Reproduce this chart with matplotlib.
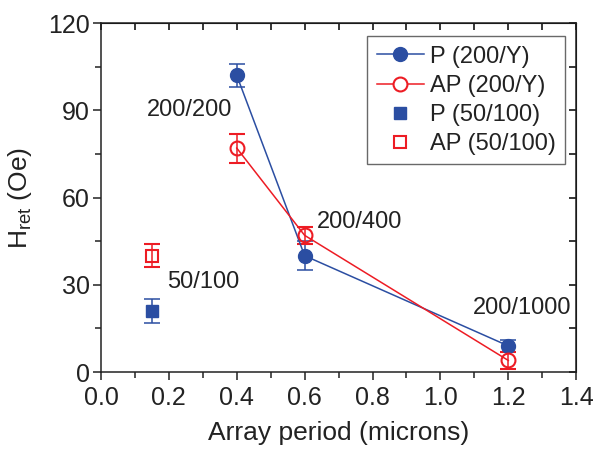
import matplotlib
matplotlib.use("Agg")
import matplotlib.pyplot as plt
from matplotlib.ticker import MultipleLocator
from matplotlib.lines import Line2D

plt.rcParams['font.family'] = ['Liberation Sans', 'DejaVu Sans']
plt.rcParams['mathtext.fontset'] = 'custom'
plt.rcParams['mathtext.rm'] = 'Liberation Sans'

blue = '#2b4ea2'
red = '#ed1c24'

# data
period_200 = [0.4, 0.6, 1.2]
p_200 = [102, 40, 9]
p_200_err = [4, 5, 2]
ap_200 = [77, 47, 4]
ap_200_err = [5, 3, 3]

period_50 = [0.15]
p_50 = [21]
p_50_err = [4]
ap_50 = [40]
ap_50_err = [4]

labels = ['200/200', '200/400', '200/1000', '50/100']
label_x = [0.136, 0.637, 1.097, 0.195]
label_y = [90, 51.6, 22, 31]

fig = plt.figure(figsize=(5.94, 4.51), dpi=100)
ax = fig.add_axes([0.170, 0.175, 0.800, 0.774])

eb = dict(capsize=5.5, elinewidth=1.1, capthick=1.1)
ax.errorbar(period_200, p_200, yerr=p_200_err, color=blue, marker='o', ms=10,
            lw=1.1, **eb)
ax.errorbar(period_200, ap_200, yerr=ap_200_err, color=red, marker='o', ms=10,
            mfc='none', mew=1.5, lw=1.1, **eb)
ax.errorbar(period_50, p_50, yerr=p_50_err, color=blue, marker='s', ms=9, ls='none', **eb)
ax.errorbar(period_50, ap_50, yerr=ap_50_err, color=red, marker='s', ms=9, ls='none',
            mfc='none', mew=1.5, **eb)

for t, x, y in zip(labels, label_x, label_y):
    ax.text(x, y, t, fontsize=17, va='center', ha='left', color='#222222')

ax.set_xlim(0, 1.4)
ax.set_ylim(0, 120)
ax.xaxis.set_major_locator(MultipleLocator(0.2))
ax.xaxis.set_minor_locator(MultipleLocator(0.1))
ax.yaxis.set_major_locator(MultipleLocator(30))
ax.yaxis.set_minor_locator(MultipleLocator(15))
ax.xaxis.set_major_formatter(plt.FormatStrFormatter('%.1f'))
ax.tick_params(which='both', direction='out', top=False, right=False,
               labelsize=18, width=1.1, colors='#222222')
ax.tick_params(which='major', length=6)
ax.tick_params(which='minor', length=4)
ax.tick_params(axis='x', pad=4)
ax.tick_params(axis='y', pad=2)

# inward ticks on top and right
sx = ax.secondary_xaxis('top')
sx.xaxis.set_major_locator(MultipleLocator(0.1))
sx.tick_params(direction='in', length=5, width=1.1, labeltop=False)
sy = ax.secondary_yaxis('right')
sy.yaxis.set_major_locator(MultipleLocator(15))
sy.tick_params(direction='in', length=5, width=1.1, labelright=False)

for s in ax.spines.values():
    s.set_linewidth(1.1)
    s.set_color('#222222')

ax.set_xlabel('Array period (microns)', fontsize=19, labelpad=8, color='#222222')
ax.set_ylabel('$\\mathregular{H_{ret}}$ (Oe)', fontsize=19, labelpad=10, color='#222222')

handles = [
    Line2D([], [], color=blue, marker='o', ms=10, lw=1.1),
    Line2D([], [], color=red, marker='o', ms=10, lw=1.1, mfc='white', mew=1.5),
    Line2D([], [], color=blue, marker='s', ms=8, ls='none'),
    Line2D([], [], color=red, marker='s', ms=8, ls='none', mfc='white', mew=1.5),
]
names = ['P (200/Y)', 'AP (200/Y)', 'P (50/100)', 'AP (50/100)']
leg = ax.legend(handles, names, loc='upper right', fontsize=17, fancybox=False,
                edgecolor='#444444', handlelength=2.0, borderpad=0.4,
                labelspacing=0.3, handletextpad=0.25, borderaxespad=0,
                bbox_to_anchor=(0.977, 0.962))
leg.get_frame().set_linewidth(1.0)
for t in leg.get_texts():
    t.set_color('#222222')

fig.savefig('out.png', dpi=100)
